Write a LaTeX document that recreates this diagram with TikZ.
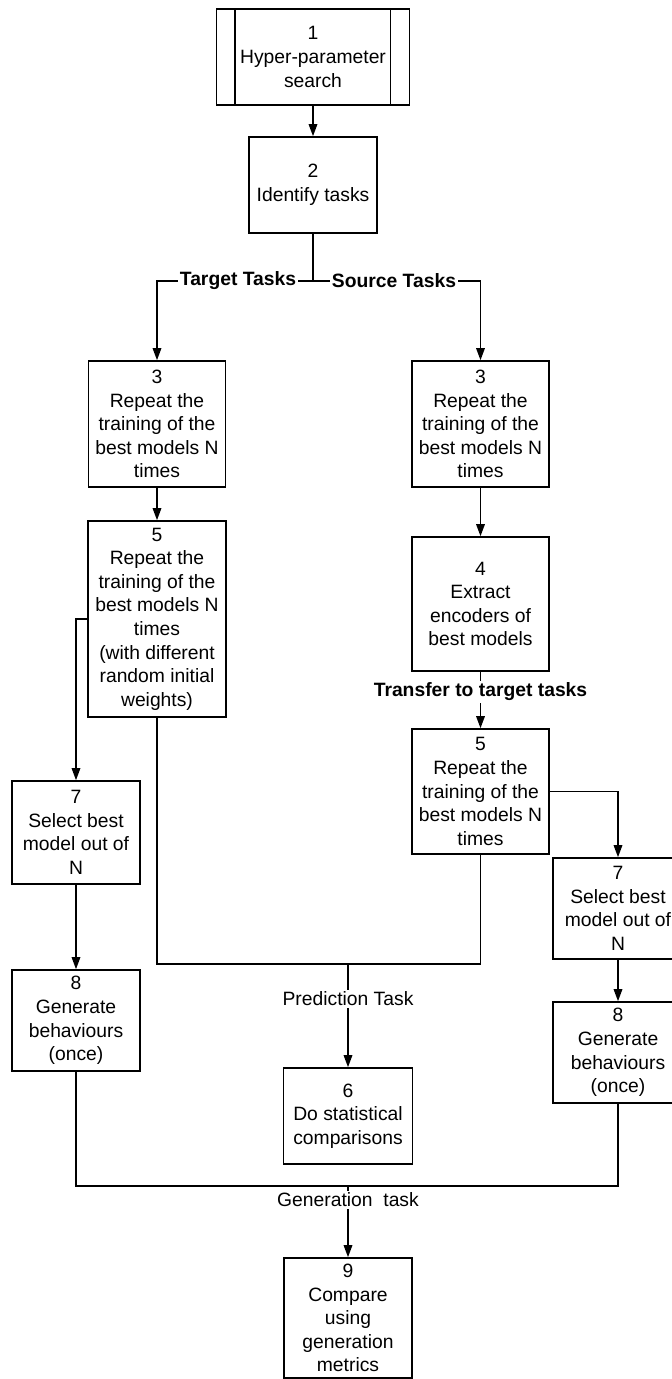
\documentclass[tikz,border=0pt]{standalone}
\usepackage{fontspec}
\setmainfont{Liberation Sans}
\usetikzlibrary{arrows.meta}
\begin{document}
\begin{tikzpicture}[x=1pt,y=-1pt,
  box/.style={draw, line width=1.6pt, inner sep=0pt, align=center, font=\fontsize{19.3}{23.6}\selectfont},
  conn/.style={line width=1.6pt},
  arr/.style={conn, -{Triangle[length=12pt,width=8.5pt]}},
  lab/.style={fill=white, inner sep=1.5pt, font=\fontsize{19.3}{23.6}\selectfont},
  blab/.style={fill=white, inner sep=1.5pt, font=\fontsize{19.3}{23.6}\selectfont\bfseries}]
\useasboundingbox (0,0) rectangle (672,1379);
% nodes
\node[box, minimum width=193pt, minimum height=96pt] (b1) at (313,57) {1\\Hyper-parameter\\search};
\node[box, minimum width=128pt, minimum height=96pt] (b2) at (313,185) {2\\Identify tasks};
\node[box, minimum width=137pt, minimum height=126pt] (b3L) at (157,424) {3\\Repeat the\\training of the\\best models N\\times};
\node[box, minimum width=137pt, minimum height=126pt] (b3R) at (480.5,424) {3\\Repeat the\\training of the\\best models N\\times};
\node[box, minimum width=138pt, minimum height=196pt] (b5L) at (157,619) {5\\Repeat the\\training of the\\best models N\\times\\(with different\\random initial\\weights)};
\node[box, minimum width=137pt, minimum height=134pt] (b4) at (480.5,604) {4\\Extract\\encoders of\\best models};
\node[box, minimum width=137pt, minimum height=125pt] (b5R) at (480.5,791.5) {5\\Repeat the\\training of the\\best models N\\times};
\node[box, minimum width=128pt, minimum height=103pt] (b7L) at (76,832.5) {7\\Select best\\model out of\\N};
\node[box, minimum width=128pt, minimum height=101pt] (b8L) at (76,1020.5) {8\\Generate\\behaviours\\(once)};
\node[box, minimum width=130pt, minimum height=101pt] (b7R) at (618,908.5) {7\\Select best\\model out of\\N};
\node[box, minimum width=130pt, minimum height=101pt] (b8R) at (618,1052.5) {8\\Generate\\behaviours\\(once)};
\node[box, minimum width=129pt, minimum height=96pt] (b6) at (348,1116) {6\\Do statistical\\comparisons};
\node[box, minimum width=128pt, minimum height=120pt] (b9) at (348,1318) {9\\Compare\\using\\generation\\metrics};
% inner lines of predefined process box
\draw[conn] ([xshift=19pt]b1.north west) -- ([xshift=19pt]b1.south west);
\draw[conn] ([xshift=-20pt]b1.north east) -- ([xshift=-20pt]b1.south east);
% connectors
\coordinate (split) at (313,281);
\coordinate (pj) at (348,964);
\coordinate (gj) at (348,1186);
\draw[arr] (b1.south) -- (b2.north);
\draw[conn] (b2.south) -- (split);
\draw[arr] (split) -| (b3L.north);
\draw[arr] (split) -| (b3R.north);
\draw[arr] (b3L.south) -- (b5L.north);
\draw[arr] (b3R.south) -- (b4.north);
\draw[arr] (b4.south) -- (b5R.north);
\draw[arr] (b5L.west) -| (b7L.north);
\draw[arr] (b5R.east) -| (b7R.north);
\draw[arr] (b7L.south) -- (b8L.north);
\draw[arr] (b7R.south) -- (b8R.north);
\draw[conn] (b5L.south) |- (pj) -| (b5R.south);
\draw[arr] (pj) -- (b6.north);
\draw[conn] (b8L.south) |- (gj) -| (b8R.south);
\draw[arr] (gj) -- (b9.north);
% labels
\node[blab] (tt) at (238,281) {Target Tasks};
\node[blab] (st) at (394,281) {Source Tasks};
\node[blab] (tr) at (480.5,692) {Transfer to target tasks};
\node[lab] (pt) at (348,999) {Prediction Task};
\node[lab] (gt) at (348,1200) {Generation~~task};
\end{tikzpicture}
\end{document}
